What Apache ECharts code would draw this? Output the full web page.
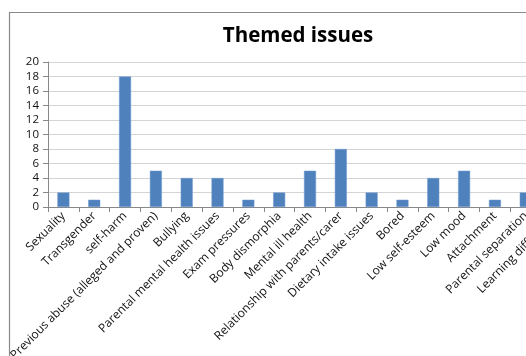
<!DOCTYPE html>
<html>
<head>
<meta charset="utf-8">
<script src="https://cdn.jsdelivr.net/npm/echarts@6/dist/echarts.min.js"></script>
<style>
html,body{margin:0;padding:0;background:#fff;}
#c{width:526px;height:356px;}
</style>
</head>
<body>
<div id="c"></div>
<script>
const titleText = "Themed issues";
const categories = [
  "Sexuality", "Transgender", "self-harm", "Previous abuse (alleged and proven)",
  "Bullying", "Parental mental health issues", "Exam pressures", "Body dismorphia",
  "Mental ill health", "Relationship with parents/carer", "Dietary intake issues",
  "Bored", "Low self-esteem", "Low mood", "Attachment", "Parental separation",
  "Learning difficulties"
];
const values = [2, 1, 18, 5, 4, 4, 1, 2, 5, 8, 2, 1, 4, 5, 1, 2, 1];
const yTicks = { min: 0, max: 20, interval: 2 };

const chart = echarts.init(document.getElementById('c'), null, {renderer: 'canvas'});
const font = "'Open Sans', 'Noto Sans', sans-serif";
chart.setOption({
  animation: false,
  backgroundColor: '#ffffff',
  title: {
    text: titleText,
    left: 293, top: 21, textAlign: 'center',
    textStyle: {fontFamily: font, fontWeight: 'bold', fontSize: 20.5, color: '#000'}
  },
  grid: {left: 48, top: 62, width: 524, height: 145, containLabel: false, outerBoundsMode: 'none'},
  xAxis: {
    type: 'category',
    data: categories,
    axisLine: {lineStyle: {color: '#888', width: 1}},
    axisTick: {show: true, length: 5, alignWithLabel: false, lineStyle: {color: '#888'}},
    axisLabel: {
      interval: 0, rotate: 45, margin: 7,
      fontFamily: font, fontSize: 12, color: '#111'
    }
  },
  yAxis: {
    type: 'value',
    min: yTicks.min, max: yTicks.max, interval: yTicks.interval,
    axisLine: {show: true, lineStyle: {color: '#888', width: 1}},
    axisTick: {show: true, length: 5, lineStyle: {color: '#888'}},
    axisLabel: {fontFamily: font, fontSize: 11.5, color: '#111', margin: 9},
    splitLine: {lineStyle: {color: '#d4d4d4', width: 1}}
  },
  series: [{
    type: 'bar',
    data: values,
    barWidth: 12,
    itemStyle: {color: '#4F81BD', borderColor: '#6f9bd0', borderWidth: 0.5}
  }],
  graphic: [
    {type: 'rect', shape: {x: 0, y: 0, width: 9, height: 356}, style: {fill: '#fff'}, z: 100},
    {type: 'rect', shape: {x: 0, y: 0, width: 526, height: 12}, style: {fill: '#fff'}, z: 100},
    {type: 'polyline', shape: {points: [[9.5, 356], [9.5, 12.5], [526, 12.5]]},
     style: {stroke: '#8a8a8a', lineWidth: 1.2, fill: null}, z: 101}
  ]
});
</script>
</body>
</html>
